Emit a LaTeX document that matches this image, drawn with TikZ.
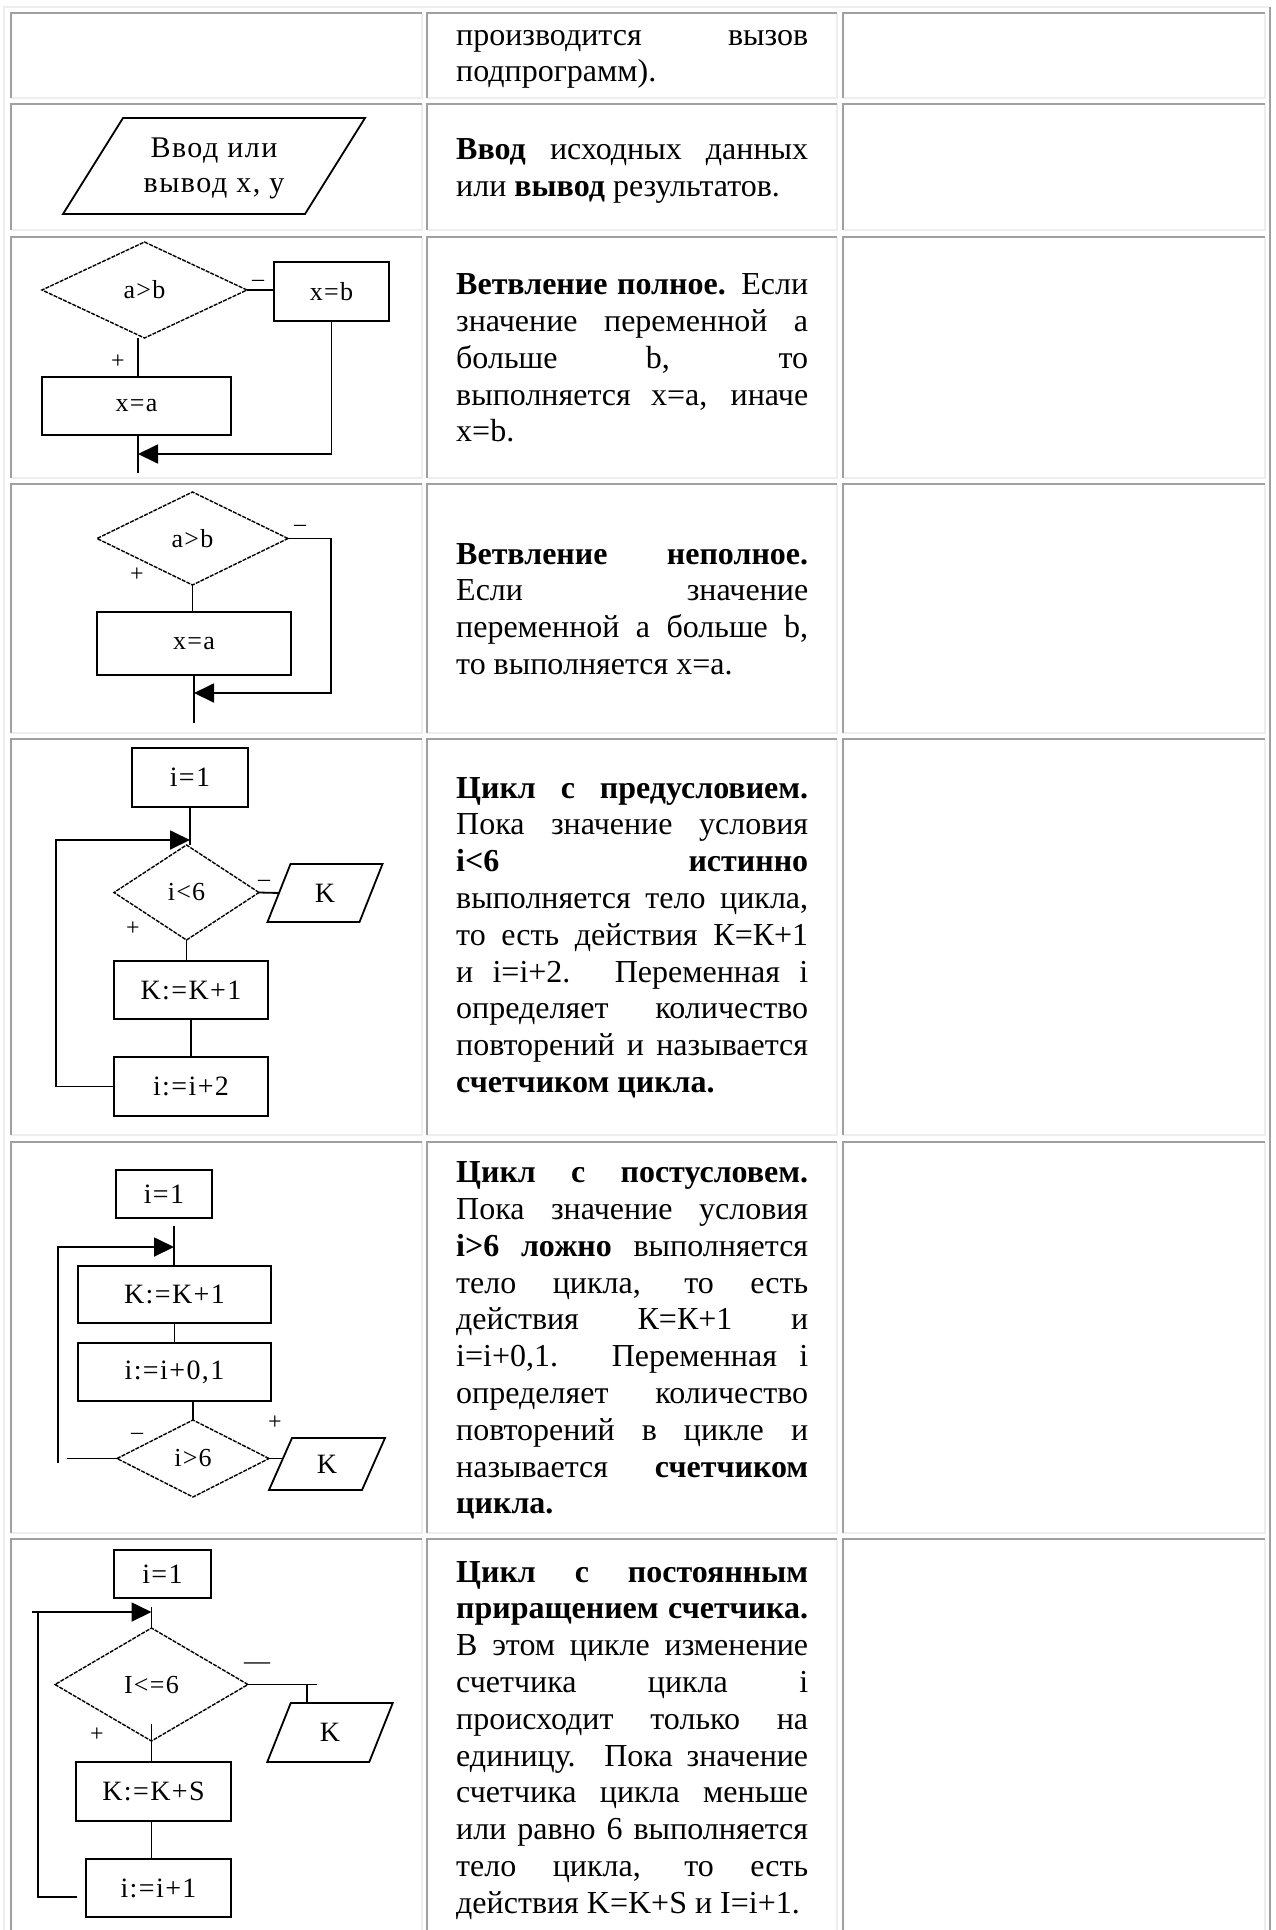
\documentclass[tikz,border=0pt]{standalone}
\usepackage{fontspec}
\setmainfont{Liberation Serif}
\newfontfamily\dgfont[LetterSpace=5]{Liberation Serif}
\usetikzlibrary{shapes.geometric,arrows.meta,calc}

\definecolor{bdark}{RGB}{160,160,160}
\definecolor{blight}{RGB}{238,238,238}

% one justified line / one last (ragged) line of a table paragraph
\newcommand{\jline}[1]{\hbox to 352pt{#1}}
\newcommand{\eline}[1]{\hbox{#1}}
\newcommand{\cellpar}[1]{\vtop{\lineskiplimit=-\maxdimen #1}}

% parallelogram: name, cx, cy, half width, half height, slant
\newcommand{\plgm}[6]{%
  \draw[pline] (#2-#4-#6,#3+#5) -- (#2+#4-#6,#3+#5) -- (#2+#4+#6,#3-#5) -- (#2-#4+#6,#3-#5) -- cycle;
  \coordinate (#1-l) at (#2-#4,#3);
  \coordinate (#1-t) at (#2+#6,#3-#5);
}

% table cell frame: x1, y1, x2, y2 (dark top/left, light bottom/right)
\newcommand{\cellframe}[4]{%
  \draw[cellhi] (#3,#2) -- (#3,#4) -- (#1,#4);
  \draw[celllo] (#1,#4) -- (#1,#2) -- (#3,#2);
}

\begin{document}
\begin{tikzpicture}[
  x=1pt, y=-1pt,
  cellhi/.style={draw=blight, line width=2pt},
  celllo/.style={draw=bdark, line width=2pt},
  blk/.style={draw, rectangle, line width=1.8pt, inner sep=0pt, outer sep=0pt,
    font=\dgfont\fontsize{28}{30}\selectfont},
  blks/.style={blk, font=\dgfont\fontsize{26}{28}\selectfont},
  dia/.style={draw, diamond, line width=1.4pt, dash pattern=on 4pt off 1.2pt,
    inner sep=0pt, outer sep=0pt, font=\dgfont\fontsize{26}{28}\selectfont},
  pline/.style={line width=1.8pt},
  ptxt/.style={inner sep=0pt, font=\dgfont\fontsize{28}{30}\selectfont},
  wire/.style={line width=1.8pt},
  arr/.style={wire, -{Triangle[length=20pt,width=19pt]}},
  sgn/.style={inner sep=0pt, font=\dgfont\fontsize{24}{26}\selectfont},
  txt/.style={anchor=base west, inner sep=0pt, font=\fontsize{32}{36.8}\selectfont}
]
\useasboundingbox (0,0) rectangle (1275,1930);
\fill[white] (0,0) rectangle (1275,1930);

% outer table frame
\draw[cellhi] (4,1930) -- (4,7) -- (1270,7);
\draw[celllo] (1270,7) -- (1270,1930);

% cells
\foreach \ya/\yb in {13/98, 104/230, 237/478, 484/733, 739/1135, 1142/1533, 1539/1940} {
  \cellframe{11}{\ya}{422}{\yb}
  \cellframe{427}{\ya}{837}{\yb}
  \cellframe{843}{\ya}{1265}{\yb}
}

% ---------- descriptions ----------
\node[txt] (t1) at (456,45) {\cellpar{%
  \jline{производится вызов}
  \eline{подпрограмм).}}};

\node[txt] (t2) at (456,159.4) {\cellpar{%
  \jline{\textbf{Ввод} исходных данных}
  \eline{или \textbf{вывод} результатов.}}};

\node[txt] (t3) at (456,294.7) {\cellpar{%
  \jline{\textbf{Ветвление полное.} Если}
  \jline{значение переменной а}
  \jline{больше b, то}
  \jline{выполняется x=a, иначе}
  \eline{x=b.}}};

\node[txt] (t4) at (456,564.1) {\cellpar{%
  \jline{\textbf{Ветвление неполное.}}
  \jline{Если значение}
  \jline{переменной а больше b,}
  \eline{то выполняется x=a.}}};

\node[txt] (t5) at (456,798) {\cellpar{%
  \jline{\textbf{Цикл с предусловием.}}
  \jline{Пока значение условия}
  \jline{\textbf{i<6 истинно}}
  \jline{выполняется тело цикла,}
  \jline{то есть действия К=К+1}
  \jline{и i=i+2. Переменная i}
  \jline{определяет количество}
  \jline{повторений и называется}
  \eline{\textbf{счетчиком цикла.}}}};

\node[txt] (t6) at (456,1182.7) {\cellpar{%
  \jline{\textbf{Цикл с постусловем.}}
  \jline{Пока значение условия}
  \jline{\textbf{i>6 ложно} выполняется}
  \jline{тело цикла, то есть}
  \jline{действия К=К+1 и}
  \jline{i=i+0,1. Переменная i}
  \jline{определяет количество}
  \jline{повторений в цикле и}
  \jline{называется \textbf{счетчиком}}
  \eline{\textbf{цикла.}}}};

\node[txt] (t7) at (456,1582) {\cellpar{%
  \jline{\textbf{Цикл с постоянным}}
  \jline{\textbf{приращением счетчика.}}
  \jline{В этом цикле изменение}
  \jline{счетчика цикла i}
  \jline{происходит только на}
  \jline{единицу. Пока значение}
  \jline{счетчика цикла меньше}
  \jline{или равно 6 выполняется}
  \jline{тело цикла, то есть}
  \eline{действия K=K+S и I=i+1.}}};

% ---------- input / output ----------
\plgm{p2}{214}{166}{121}{48}{30}
\node[align=center, inner sep=0pt, font=\dgfont\fontsize{30}{35}\selectfont] (io) at (214,168) {Ввод или\\вывод x, y};

% ---------- full branch ----------
\node[dia, minimum width=205pt, minimum height=96pt] (d3) at (144.5,290) {a>b};
\node[blks, minimum width=115pt, minimum height=59pt] (xb3) at (331.5,291.5) {x=b};
\node[blks, minimum width=189pt, minimum height=58pt] (xa3) at (136.5,406) {x=a};
\coordinate (j3) at (138,454);
\coordinate (e3) at (138,473);
\draw[wire] (d3.east) -- (d3.east -| xb3.west);
\draw[wire] (d3.south -| j3) -- (xa3.north -| j3);
\draw[wire] (xa3.south -| j3) -- (e3);
\draw[arr] (xb3.south) |- (j3);
\node[sgn] (m3) at (258,283) {–};
\node[sgn] (p3) at (118,362) {+};

% ---------- partial branch ----------
\node[dia, minimum width=191pt, minimum height=93pt] (d4) at (192.5,538.5) {a>b};
\node[blks, minimum width=194pt, minimum height=63pt] (xa4) at (194,643.5) {x=a};
\coordinate (r4) at (331,538.5);
\coordinate (j4) at (194,693);
\coordinate (e4) at (194,723);
\draw[wire] (d4.south) -- (d4.south |- xa4.north);
\draw[arr] (d4.east) -- (r4) |- (j4);
\draw[wire] (xa4.south) -- (e4);
\node[sgn] (m4) at (300,528) {–};
\node[sgn] (p4) at (137,575) {+};

% ---------- loop with precondition ----------
\node[blk, minimum width=116pt, minimum height=59pt] (a51) at (190,777.5) {i=1};
\node[dia, minimum width=145pt, minimum height=95pt] (d5) at (186.5,892.5) {i<6};
\plgm{p5}{325}{893}{46}{29}{11.5}
\node[ptxt] (k5) at (325,893) {K};
\node[blk, minimum width=154pt, minimum height=58pt] (a52) at (191,990) {K:=K+1};
\node[blk, minimum width=154pt, minimum height=59pt] (a53) at (191,1086.5) {i:=i+2};
\coordinate (l5) at (56,840);
\coordinate (h5) at (190,840);
\draw[wire] (a51.south) -- (a51.south |- d5.north);
\draw[arr] (a53.west) -| (l5) -- (h5);
\draw[wire] (d5.east) -- (p5-l);
\draw[wire] (d5.south) -- (d5.south |- a52.north);
\draw[wire] (a52.south) -- (a52.south |- a53.north);
\node[sgn] (m5) at (264,883) {–};
\node[sgn] (p5s) at (133,929) {+};

% ---------- loop with postcondition ----------
\node[blk, minimum width=96pt, minimum height=48pt] (a61) at (164,1194) {i=1};
\node[blk, minimum width=193pt, minimum height=57pt] (a62) at (174.5,1294.5) {K:=K+1};
\node[blk, minimum width=193pt, minimum height=58pt] (a63) at (174.5,1372) {i:=i+0,1};
\node[dia, minimum width=152pt, minimum height=77pt] (d6) at (193,1458.5) {i>6};
\plgm{p6}{327}{1464}{46.5}{26}{11.5}
\node[ptxt] (k6) at (327,1464) {K};
\coordinate (t6c) at (174,1226);
\coordinate (h6) at (174,1247);
\coordinate (lb6) at (58,1463);
\coordinate (lt6) at (58,1247);
\coordinate (lc6) at (67,1458.5);
\coordinate (pi6) at (283,1458.5);
\draw[wire] (t6c) -- (t6c |- a62.north);
\draw[arr] (lb6) -- (lt6) -- (h6);
\draw[wire] (lc6) -- (d6.west);
\draw[wire] (a62.south) -- (a63.north);
\draw[wire] (d6.north) -- (d6.north |- a63.south);
\draw[wire] (d6.east) -- (pi6);
\node[sgn] (m6) at (137,1436) {–};
\node[sgn] (p6s) at (275,1423) {+};

% ---------- counted loop ----------
\node[blk, minimum width=97pt, minimum height=48pt] (a71) at (162.5,1574) {i=1};
\node[dia, minimum width=193pt, minimum height=113pt] (d7) at (151.5,1684.5) {I<=6};
\plgm{p7}{330}{1732.5}{51}{29.5}{11.75}
\node[ptxt] (k7) at (330,1732.5) {K};
\node[blk, minimum width=155pt, minimum height=59pt] (a72) at (153.5,1791.5) {K:=K+S};
\node[blk, minimum width=145pt, minimum height=58pt] (a73) at (158.5,1888) {i:=i+1};
\coordinate (t7c) at (151.5,1607);
\coordinate (la7) at (32,1612);
\coordinate (ha7) at (151.5,1612);
\coordinate (lb7) at (38,1612);
\coordinate (lc7) at (38,1897);
\coordinate (ld7) at (77,1897);
\coordinate (r7) at (317,1684.5);
\coordinate (q7) at (307,1684.5);
\draw[wire] (t7c) -- (d7.north);
\draw[arr] (la7) -- (ha7);
\draw[wire] (lb7) -- (lc7) -- (ld7);
\draw[wire] (d7.east) -- (r7);
\draw[wire] (q7) -- (q7 |- p7-t);
\draw[wire] ($(d7.south)+(0pt,17pt)$) -- (d7.south |- a72.north);
\draw[wire] (a72.south -| d7.south) -- (d7.south |- a73.north);
\node[sgn, font=\dgfont\fontsize{26}{28}\selectfont] (m7) at (257,1666) {—};
\node[sgn] (p7s) at (97,1735) {+};
\end{tikzpicture}
\end{document}
